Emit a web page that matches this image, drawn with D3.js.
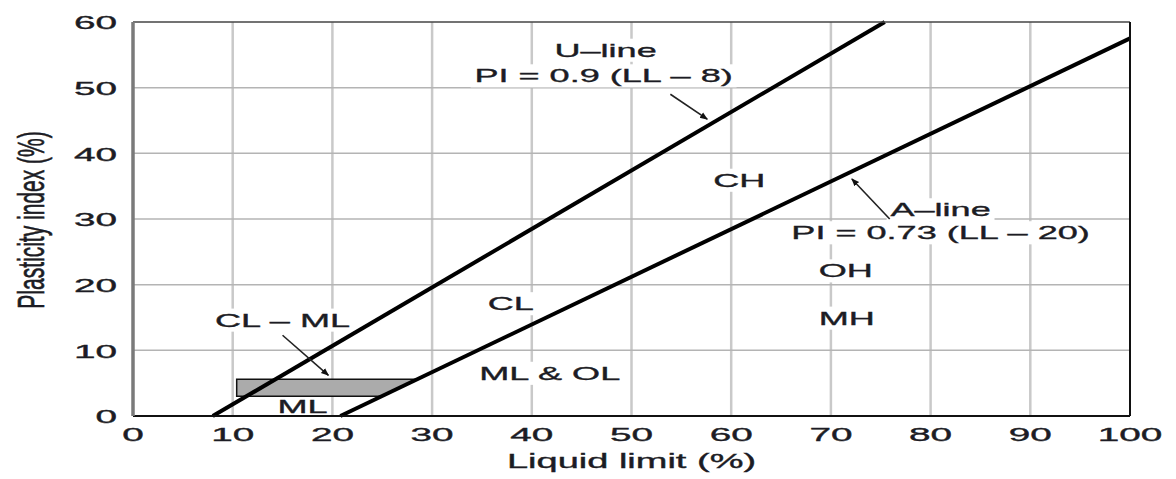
<!DOCTYPE html>
<html>
<head>
<meta charset="utf-8">
<title>Plasticity chart</title>
<script src="https://d3js.org/d3.v7.min.js"></script>
<style>
  body { margin: 0; background: #fff; }
  text { font-family: "Liberation Sans", Arial, sans-serif; fill: #1c1c24; stroke: #1c1c24; stroke-width: 0.35px; }
</style>
</head>
<body>
<script>
// axis ticks
var xTicks = [0, 10, 20, 30, 40, 50, 60, 70, 80, 90, 100];
var yTicks = [0, 10, 20, 30, 40, 50, 60];

// U-line and A-line end points (LL, PI)
var uLine = [[8, 0], [75.4, 60]];
var aLine = [[20.8, 0], [100, 57.5]];

// CL-ML hatched zone
var clmlZone = [[10.4, 3], [10.4, 5.6], [28.5, 5.6], [24.9, 3]];

// zone / line labels, anchored in (LL, PI)
var labelText = ["U\u2013line", "PI = 0.9 (LL \u2013 8)", "CH", "A\u2013line", "PI = 0.73 (LL \u2013 20)",
                 "OH", "MH", "CL", "ML & OL", "CL \u2013 ML", "ML"];
var labelLL = [47.4, 47.2, 60.8, 81.0, 81.0, 71.5, 71.6, 37.9, 41.8, 15.0, 17.0];
var labelPI = [55.7, 51.8, 35.9, 31.4, 27.9, 22.1, 14.9, 17.1, 6.5, 14.6, 1.5];

// pointer arrows [from, to]
var arrows = [
  [[53.9, 49.0], [57.6, 45.2]],
  [[75.9, 30.0], [72.1, 36.1]],
  [[15.0, 12.3], [19.6, 6.2]]
];

var W = 1176, H = 479;
var margin = { top: 22, right: 46, bottom: 63, left: 133 };
var width = W - margin.left - margin.right,
    height = H - margin.top - margin.bottom;

var x = d3.scaleLinear().domain([0, 100]).range([0, width]);
var y = d3.scaleLinear().domain([0, 60]).range([height, 0]);

var svg = d3.select("body").append("svg")
    .attr("width", W)
    .attr("height", H);

svg.append("defs").append("marker")
    .attr("id", "head")
    .attr("viewBox", "0 0 10 10")
    .attr("refX", 9).attr("refY", 5)
    .attr("markerWidth", 5).attr("markerHeight", 5)
    .attr("orient", "auto")
  .append("path")
    .attr("d", "M0,1 L10,5 L0,9 Z")
    .attr("fill", "#111");

var g = svg.append("g")
    .attr("transform", "translate(" + margin.left + "," + margin.top + ")");

// grid
g.selectAll(".vgrid").data(xTicks.slice(1, -1)).enter().append("line")
    .attr("x1", d => x(d)).attr("x2", d => x(d))
    .attr("y1", 0).attr("y2", height)
    .attr("stroke", "#c9c9c9").attr("stroke-width", 2.5);

g.selectAll(".hgrid").data(yTicks.slice(1, -1)).enter().append("line")
    .attr("x1", 0).attr("x2", width)
    .attr("y1", d => y(d)).attr("y2", d => y(d))
    .attr("stroke", "#b4b4b4").attr("stroke-width", 1.5);

// text with horizontal stretch, optional white backing
function stretchText(parent, tx, ty, str, size, sx, anchor, backed) {
  var t = parent.append("g")
      .attr("transform", "translate(" + tx + "," + ty + ") scale(" + sx + ",1)");
  var txt = t.append("text")
      .attr("text-anchor", anchor)
      .attr("dominant-baseline", "central")
      .attr("font-size", size)
      .text(str);
  if (backed) {
    var b = txt.node().getBBox();
    t.insert("rect", "text")
      .attr("x", b.x - 2).attr("y", b.y - 1)
      .attr("width", b.width + 4).attr("height", b.height + 2)
      .attr("fill", "#fff");
  }
  return t;
}

// labels
labelText.forEach(function (s, i) {
  stretchText(g, x(labelLL[i]), y(labelPI[i]), s, 19, 1.9, "middle", s !== "ML");
});

// CL-ML zone
g.append("path")
    .datum(clmlZone)
    .attr("d", d3.line().x(d => x(d[0])).y(d => y(d[1])).curve(d3.curveLinearClosed))
    .attr("fill", "#ababab")
    .attr("stroke", "#111")
    .attr("stroke-width", 1.5);

// U- and A-lines
var line = d3.line().x(d => x(d[0])).y(d => y(d[1]));
[uLine, aLine].forEach(function (l) {
  g.append("path")
      .datum(l)
      .attr("d", line)
      .attr("fill", "none")
      .attr("stroke", "#000")
      .attr("stroke-width", 4);
});

// arrows
arrows.forEach(function (a) {
  g.append("line")
      .attr("x1", x(a[0][0])).attr("y1", y(a[0][1]))
      .attr("x2", x(a[1][0])).attr("y2", y(a[1][1]))
      .attr("stroke", "#222").attr("stroke-width", 1.6)
      .attr("marker-end", "url(#head)");
});

// frame
g.append("line").attr("x1", 0).attr("x2", width).attr("y1", 0).attr("y2", 0)
    .attr("stroke", "#444").attr("stroke-width", 1.5);
g.append("line").attr("x1", width).attr("x2", width).attr("y1", 0).attr("y2", height)
    .attr("stroke", "#111").attr("stroke-width", 2);
g.append("line").attr("x1", 0).attr("x2", width).attr("y1", height).attr("y2", height)
    .attr("stroke", "#111").attr("stroke-width", 2);
g.append("line").attr("x1", 0).attr("x2", 0).attr("y1", 0).attr("y2", height)
    .attr("stroke", "#7a7a7a").attr("stroke-width", 3.5);

// tick labels
xTicks.forEach(function (d) {
  stretchText(g, x(d), height + 19, d, 18, 2.15, "middle", false);
});
yTicks.forEach(function (d) {
  stretchText(g, -16, y(d) + 1, d, 18, 2.15, "end", false);
});

// axis titles
stretchText(g, width / 2, height + 45, "Liquid limit (%)", 20, 1.9, "middle", false);

g.append("g")
    .attr("transform", "translate(" + (30 - margin.left) + "," + (220 - margin.top) + ") rotate(-90) scale(1,1.8)")
  .append("text")
    .attr("text-anchor", "middle")
    .attr("dominant-baseline", "central")
    .attr("font-size", 21)
    .text("Plasticity index (%)");
</script>
</body>
</html>
